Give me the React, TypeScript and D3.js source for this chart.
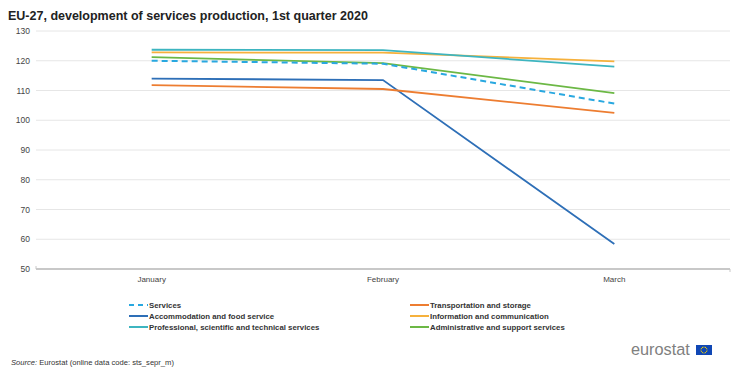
import React from "react";
import * as d3 from "d3";

const months = ["January", "February", "March"];
const yTicks = [50, 60, 70, 80, 90, 100, 110, 120, 130];

const seriesNames = [
  "Services",
  "Transportation and storage",
  "Accommodation and food service",
  "Information and communication",
  "Professional, scientific and technical services",
  "Administrative and support services",
];
const services = [120.0, 119.0, 105.6];
const transport = [111.8, 110.5, 102.5];
const accommodation = [114.0, 113.5, 58.4];
const information = [122.8, 122.7, 119.8];
const professional = [123.7, 123.6, 118.0];
const administrative = [121.2, 119.2, 109.1];

const colors = ["#29A8E0", "#ED7D31", "#2E6FB7", "#F6B13C", "#3DB5C0", "#6CB845"];

export default function App() {
  const W = 740, H = 382;
  const x0 = 36, x1 = 730, yTop = 31, yBot = 269;
  const x = d3.scaleBand().domain(months).range([x0, x1]);
  const y = d3.scaleLinear().domain([50, 130]).range([yBot, yTop]);
  const values = [services, transport, accommodation, information, professional, administrative];
  const line = d3
    .line<number>()
    .x((_, i) => (x(months[i]) as number) + x.bandwidth() / 2)
    .y((v) => y(v));
  const order = [2, 1, 5, 3, 4, 0];

  const legendPos = [
    { lx: 129, ty: 305 },
    { lx: 410, ty: 305 },
    { lx: 129, ty: 316 },
    { lx: 410, ty: 316 },
    { lx: 129, ty: 327 },
    { lx: 410, ty: 327 },
  ];

  const stars = d3.range(12).map((i) => {
    const a = (i / 12) * Math.PI * 2;
    return { cx: 704 + Math.cos(a) * 3, cy: 350 + Math.sin(a) * 3 };
  });

  return (
    <svg width={W} height={H} style={{ position: "absolute", left: 0, top: 0, fontFamily: "Liberation Sans, Arial, sans-serif" }}>
      <rect width={W} height={H} fill="#fff" />
      <text x={8} y={20} fontSize={12.5} fontWeight="bold" fill="#222">
        EU-27, development of services production, 1st quarter 2020
      </text>
      {yTicks.map((t) => (
        <g key={t}>
          {t !== 50 && <line x1={x0} x2={x1} y1={y(t)} y2={y(t)} stroke="#e6e6e6" strokeWidth={1} />}
          <text x={30} y={y(t) + 3} fontSize={8.5} textAnchor="end" fill="#444">
            {t}
          </text>
        </g>
      ))}
      <line x1={x0} x2={x1} y1={yBot} y2={yBot} stroke="#c8c8c8" strokeWidth={2} />
      <line x1={x0} x2={x0} y1={yBot - 3} y2={yBot} stroke="#c8c8c8" strokeWidth={1} />
      <line x1={x1} x2={x1} y1={yBot} y2={yBot + 3} stroke="#c8c8c8" strokeWidth={1} />
      {months.map((m) => (
        <text key={m} x={(x(m) as number) + x.bandwidth() / 2} y={282} fontSize={8} textAnchor="middle" fill="#444">
          {m}
        </text>
      ))}
      {order.map((i) => (
        <path
          key={i}
          d={line(values[i]) as string}
          fill="none"
          stroke={colors[i]}
          strokeWidth={i === 0 ? 2 : 1.8}
          strokeDasharray={i === 0 ? "6,4" : undefined}
        />
      ))}
      {seriesNames.map((n, i) => (
        <g key={n}>
          <line
            x1={legendPos[i].lx}
            x2={legendPos[i].lx + 19}
            y1={legendPos[i].ty}
            y2={legendPos[i].ty}
            stroke={colors[i]}
            strokeWidth={2}
            strokeDasharray={i === 0 ? "5,4" : undefined}
          />
          <text x={legendPos[i].lx + 20} y={legendPos[i].ty + 2.7} fontSize={7.8} fontWeight="bold" fill="#333">
            {n}
          </text>
        </g>
      ))}
      <text x={11} y={365} fontSize={7.6} fill="#333">
        <tspan fontStyle="italic">Source:</tspan> Eurostat (online data code: sts_sepr_m)
      </text>
      <text x={631} y={355} fontSize={16.3} fill="#808080">
        eurostat
      </text>
      <rect x={696} y={345} width={16} height={10} fill="#1047B5" />
      {stars.map((s, i) => (
        <circle key={i} cx={s.cx} cy={s.cy} r={0.6} fill="#F5D400" />
      ))}
    </svg>
  );
}
